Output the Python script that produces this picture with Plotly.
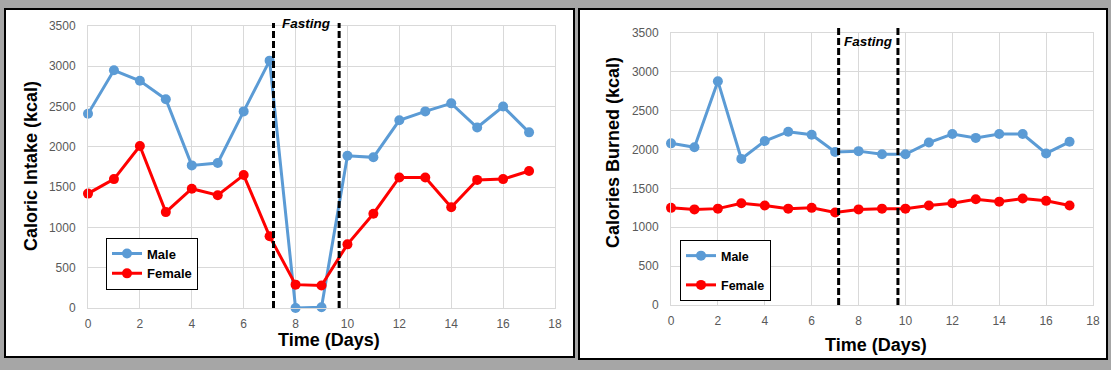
import plotly.graph_objects as go

days = list(range(18))

intake_male = [2410, 2950, 2820, 2590, 1770, 1800, 2440, 3070, 0, 10,
               1890, 1870, 2330, 2440, 2540, 2240, 2500, 2180]
intake_female = [1420, 1600, 2010, 1190, 1480, 1400, 1650, 890, 290, 280,
                 790, 1170, 1620, 1620, 1250, 1590, 1600, 1700]

burned_male = [2080, 2030, 2880, 1880, 2110, 2230, 2190, 1970, 1980, 1940,
               1940, 2090, 2200, 2150, 2200, 2200, 1950, 2100]
burned_female = [1250, 1230, 1240, 1310, 1280, 1240, 1250, 1190, 1230, 1240,
                 1240, 1280, 1310, 1360, 1330, 1370, 1340, 1280]

fasting_start = 7.15
fasting_end = 9.68

W, H = 1111, 370
BLUE = "#5b9bd5"
RED = "#ff0000"
FONT = "Liberation Sans, Arial, sans-serif"


def fx(px):
    return px / W


def fy(py):
    return 1 - py / H


fig = go.Figure()

series = [
    ("x", "y", "legend", intake_male, intake_female),
    ("x2", "y2", "legend2", burned_male, burned_female),
]
for xa, ya, lg, male, female in series:
    fig.add_trace(go.Scatter(
        x=days, y=male, name="Male", xaxis=xa, yaxis=ya, legend=lg,
        mode="lines+markers", line=dict(color=BLUE, width=3),
        marker=dict(color=BLUE, size=10), cliponaxis=False,
        legendgroup=lg + "m"))
    fig.add_trace(go.Scatter(
        x=days, y=female, name="Female", xaxis=xa, yaxis=ya, legend=lg,
        mode="lines+markers", line=dict(color=RED, width=3),
        marker=dict(color=RED, size=10), cliponaxis=False,
        legendgroup=lg + "f"))

axis_common = dict(
    showgrid=True, gridcolor="#d9d9d9", gridwidth=1,
    showline=True, linecolor="#d9d9d9", linewidth=1, mirror=True,
    zeroline=False, ticks="", automargin=False,
    tickfont=dict(family=FONT, size=12, color="#595959"),
)

fig.update_layout(
    width=W, height=H,
    margin=dict(l=0, r=0, t=0, b=0, autoexpand=False),
    paper_bgcolor="#a6a6a6",
    plot_bgcolor="white",
    font=dict(family=FONT),
    xaxis=dict(domain=[fx(88), fx(555)], range=[0, 18], dtick=2,
               anchor="y", ticklabelstandoff=5, **axis_common),
    yaxis=dict(domain=[fy(308), fy(26)], range=[0, 3500], dtick=500,
               anchor="x", ticklabelstandoff=9, **axis_common),
    xaxis2=dict(domain=[fx(671), fx(1093)], range=[0, 18], dtick=2,
                anchor="y2", ticklabelstandoff=5, **axis_common),
    yaxis2=dict(domain=[fy(305), fy(33)], range=[0, 3500], dtick=500,
                anchor="x2", ticklabelstandoff=9, **axis_common),
    legend=dict(x=fx(106), y=fy(263.5), xanchor="left", yanchor="middle",
                bgcolor="white", bordercolor="black", borderwidth=1,
                font=dict(family=FONT, size=13, color="black", weight="bold"),
                tracegroupgap=0, itemwidth=30),
    legend2=dict(x=fx(680), y=fy(270.5), xanchor="left", yanchor="middle",
                 bgcolor="white", bordercolor="black", borderwidth=1,
                 font=dict(family=FONT, size=12.5, color="black", weight="bold"),
                 tracegroupgap=10, itemwidth=30),
    showlegend=True,
)

shapes = [
    dict(type="rect", xref="paper", yref="paper", layer="below",
         x0=fx(5), x1=fx(574), y0=fy(357), y1=fy(9),
         fillcolor="white", line=dict(color="black", width=2)),
    dict(type="rect", xref="paper", yref="paper", layer="below",
         x0=fx(579), x1=fx(1107), y0=fy(359), y1=fy(9),
         fillcolor="white", line=dict(color="black", width=2)),
]
for xr, yd, top in [("x", "y domain", 1 + 3 / 282), ("x2", "y2 domain", 1 + 6 / 272)]:
    for xv in (fasting_start, fasting_end):
        shapes.append(dict(type="line", xref=xr, yref=yd, x0=xv, x1=xv,
                           y0=0, y1=top, layer="above",
                           line=dict(color="black", width=3, dash="7px,3px")))
fig.update_layout(shapes=shapes)

annotations = [
    dict(text="Fasting", xref="x", yref="paper", x=(fasting_start + fasting_end) / 2,
         y=fy(23), showarrow=False, xanchor="center", yanchor="middle",
         font=dict(family=FONT, size=13.5, color="black", weight="bold", style="italic")),
    dict(text="Fasting", xref="x2", yref="paper", x=(fasting_start + fasting_end) / 2,
         y=fy(42), showarrow=False, xanchor="center", yanchor="middle",
         font=dict(family=FONT, size=13.5, color="black", weight="bold", style="italic")),
    dict(text="Caloric Intake (kcal)", xref="paper", yref="paper", x=fx(31), y=fy(166),
         textangle=-90, showarrow=False, xanchor="center", yanchor="middle",
         font=dict(family=FONT, size=18, color="black", weight="bold")),
    dict(text="Calories Burned (kcal)", xref="paper", yref="paper", x=fx(613), y=fy(153),
         textangle=-90, showarrow=False, xanchor="center", yanchor="middle",
         font=dict(family=FONT, size=18, color="black", weight="bold")),
    dict(text="Time (Days)", xref="paper", yref="paper", x=fx(329), y=fy(340),
         showarrow=False, xanchor="center", yanchor="middle",
         font=dict(family=FONT, size=18, color="black", weight="bold")),
    dict(text="Time (Days)", xref="paper", yref="paper", x=fx(876), y=fy(345),
         showarrow=False, xanchor="center", yanchor="middle",
         font=dict(family=FONT, size=18, color="black", weight="bold")),
]
fig.update_layout(annotations=annotations)

fig.write_html(
    "out.html",
    config={"displayModeBar": False},
    post_script="document.body.style.margin='0';document.body.style.overflow='hidden';",
)
